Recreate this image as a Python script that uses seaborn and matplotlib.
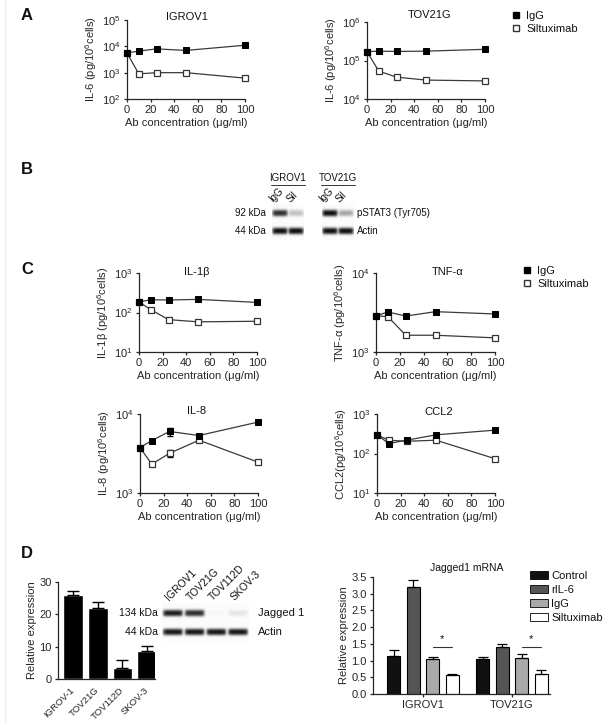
import matplotlib
matplotlib.use('Agg')
import matplotlib.pyplot as plt
from matplotlib.lines import Line2D
from matplotlib.patches import Patch
from matplotlib.ticker import NullLocator, LogFormatterSciNotation
import numpy as np
import pandas as pd
import seaborn as sns

W, H = 607, 722

# dose response (A, C)
conc = [0, 10, 25, 50, 100]
il6_igrov1_igg = [5600, 6600, 8000, 7000, 11000]
il6_igrov1_silt = [5600, 900, 1000, 1000, 620]
il6_tov21g_igg = [170000, 175000, 172000, 175000, 195000]
il6_tov21g_silt = [170000, 53000, 37000, 31000, 29500]
il1b_igg = [185, 211, 207, 215, 180]
il1b_silt = [185, 118, 66, 58, 60]
tnfa_igg = [2880, 3210, 2850, 3240, 3030]
tnfa_silt = [2880, 2800, 1630, 1630, 1510]
il8_igg = [3750, 4610, 6010, 5340, 7900]
il8_igg_err = [0, 0, 700, 0, 0]
il8_silt = [3750, 2320, 3180, 4660, 2460]
il8_silt_err = [0, 0, 330, 0, 0]
ccl2_igg = [297, 179, 217, 297, 390]
ccl2_silt = [297, 217, 204, 217, 74]

# western blots (band darkness 0-1)
blot_b_igrov1_pstat3 = [0.85, 0.35]
blot_b_igrov1_actin = [0.95, 0.95]
blot_b_tov21g_pstat3 = [0.95, 0.45]
blot_b_tov21g_actin = [0.95, 0.95]
blot_d_lanes = ['IGROV1', 'TOV21G', 'TOV112D', 'SKOV-3']
blot_d_jagged = [0.9, 0.85, 0.06, 0.18]
blot_d_actin = [0.92, 0.92, 0.92, 0.92]

# D: jagged1 baseline
jag_cells = ['IGROV-1', 'TOV21G', 'TOV112D', 'SKOV-3']
jag_rel = [26.0, 22.0, 3.5, 8.7]
jag_err = [1.2, 1.9, 2.3, 1.4]

# D: jagged1 mRNA
mrna_lines = ['IGROV1', 'TOV21G']
treatments = ['Control', 'rIL-6', 'IgG', 'Siltuximab']
mrna_igrov1 = [1.15, 3.2, 1.05, 0.56]
mrna_igrov1_err = [0.16, 0.22, 0.05, 0.04]
mrna_tov21g = [1.05, 1.40, 1.09, 0.60]
mrna_tov21g_err = [0.05, 0.11, 0.12, 0.11]

sns.set_style('ticks')
plt.rcParams['font.family'] = ['Liberation Sans', 'DejaVu Sans']
plt.rcParams['mathtext.default'] = 'regular'
plt.rcParams['axes.linewidth'] = 0.9
plt.rcParams['xtick.major.width'] = 0.9
plt.rcParams['ytick.major.width'] = 0.9
plt.rcParams['xtick.major.size'] = 2.5
plt.rcParams['ytick.major.size'] = 2.5
plt.rcParams['xtick.major.pad'] = 2
plt.rcParams['ytick.major.pad'] = 2
plt.rcParams['axes.labelpad'] = 2
plt.rcParams['xtick.labelsize'] = 8
plt.rcParams['ytick.labelsize'] = 8
plt.rcParams['axes.labelsize'] = 8
plt.rcParams['text.color'] = '#111111'

LINE = '#3a3a3a'
XLAB = 'Ab concentration (μg/ml)'


def box(x0, y0, x1, y1):
    return [x0 / W, 1 - y1 / H, (x1 - x0) / W, (y1 - y0) / H]


def dose_panel(ax, igg, silt, ylim, title, ylabel, tpos,
               igg_err=None, silt_err=None):
    ax.set_yscale('log')
    sns.lineplot(x=conc, y=silt, ax=ax, errorbar=None, color=LINE, lw=0.9,
                 marker='s', ms=5, mfc='white', mec='#333333', mew=0.9,
                 clip_on=False, zorder=3)
    sns.lineplot(x=conc, y=igg, ax=ax, errorbar=None, color=LINE, lw=0.9,
                 marker='s', ms=5, mfc='black', mec='black',
                 clip_on=False, zorder=4)
    if igg_err is not None:
        ax.errorbar(conc, igg, yerr=igg_err, fmt='none', ecolor='black',
                    elinewidth=0.8, capsize=2, zorder=2)
    if silt_err is not None:
        ax.errorbar(conc, silt, yerr=silt_err, fmt='none', ecolor='black',
                    elinewidth=0.8, capsize=2, zorder=2)
    ax.set_xlim(0, 100)
    ax.set_ylim(ylim)
    ax.set_xticks(range(0, 101, 20))
    lo, hi = np.log10(ylim)
    ax.set_yticks(10.0 ** np.arange(lo, hi + 1))
    ax.yaxis.set_major_formatter(LogFormatterSciNotation())
    ax.yaxis.set_minor_locator(NullLocator())
    ax.set_xlabel(XLAB)
    ax.set_ylabel(ylabel)
    ax.text(tpos[0], tpos[1], title, transform=ax.transAxes,
            ha='center', va='center', fontsize=8)
    sns.despine(ax=ax)


def draw_blot(ax, x0, x1, y0, y1, rows, gap=0.5):
    nx, ny = int((x1 - x0) * 4), int((y1 - y0) * 4)
    X, Y = np.meshgrid(np.linspace(x0, x1, nx), np.linspace(y0, y1, ny))
    img = np.full(X.shape, 0.03)
    nl = len(rows[0][1])
    lw = (x1 - x0) / nl
    for yc, vals in rows:
        for i, v in enumerate(vals):
            cx = x0 + lw * (i + 0.5)
            horiz = 1 / (1 + np.exp((np.abs(X - cx) - (lw / 2 - gap)) / 0.9))
            vert = np.exp(-np.abs((Y - yc) / 3.8) ** 2.5)
            img = np.maximum(img, v * horiz * vert)
    ax.imshow(img, cmap='Greys', vmin=0, vmax=1, extent=(x0, x1, y1, y0),
              interpolation='bilinear', aspect='auto', zorder=2)


fig = plt.figure(figsize=(W / 100, H / 100), dpi=100)

# ---- A
ax = fig.add_axes(box(127, 20, 245, 99))
dose_panel(ax, il6_igrov1_igg, il6_igrov1_silt, (1e2, 1e5), 'IGROV1',
           'IL-6 (pg/10$^6$cells)', (0.51, 1.04))
ax = fig.add_axes(box(367, 22, 485, 99))
dose_panel(ax, il6_tov21g_igg, il6_tov21g_silt, (1e4, 1e6), 'TOV21G',
           'IL-6 (pg/10$^6$cells)', (0.53, 1.09))

# ---- C
ax = fig.add_axes(box(139, 273, 257, 352))
dose_panel(ax, il1b_igg, il1b_silt, (1e1, 1e3), 'IL-1β',
           'IL-1β (pg/10$^6$cells)', (0.49, 1.01))
ax = fig.add_axes(box(376, 273, 495, 352))
dose_panel(ax, tnfa_igg, tnfa_silt, (1e3, 1e4), 'TNF-α',
           'TNF-α (pg/10$^6$cells)', (0.6, 1.01))
ax = fig.add_axes(box(140, 414, 258, 493))
dose_panel(ax, il8_igg, il8_silt, (1e3, 1e4), 'IL-8',
           'IL-8 (pg/10$^6$cells)', (0.48, 1.04),
           igg_err=il8_igg_err, silt_err=il8_silt_err)
ax = fig.add_axes(box(377, 414, 495, 493))
dose_panel(ax, ccl2_igg, ccl2_silt, (1e1, 1e3), 'CCL2',
           'CCL2(pg/10$^6$cells)', (0.52, 1.03))

leg_handles = [
    Line2D([], [], marker='s', ls='none', ms=5, mfc='black', mec='black'),
    Line2D([], [], marker='s', ls='none', ms=5, mfc='white', mec='#333333'),
]
for lx, ly in [(512, 11), (523, 266)]:
    fig.legend(leg_handles, ['IgG', 'Siltuximab'], loc='upper left',
               bbox_to_anchor=(lx / W, 1 - ly / H), frameon=False, fontsize=8,
               handlelength=0.8, handletextpad=0.5, labelspacing=0.3,
               borderaxespad=0, borderpad=0)

# ---- D left: relative expression
ax = fig.add_axes(box(58, 582, 155, 679))
sns.barplot(x=jag_cells, y=jag_rel, color='black', saturation=1, width=0.8,
            errorbar=None, ax=ax)
ax.errorbar(range(len(jag_cells)), jag_rel,
            yerr=[np.zeros(len(jag_err)), jag_err], fmt='none',
            ecolor='black', elinewidth=1, capsize=4, capthick=1)
ax.set_xlim(-0.61, 3.32)
ax.set_ylim(0, 30)
ax.set_yticks([0, 10, 20, 30])
ax.set_ylabel('Relative expression')
ax.tick_params(axis='x', length=0, pad=7, labelsize=6.8)
plt.setp(ax.get_xticklabels(), rotation=45, ha='right', va='center',
         rotation_mode='anchor')
sns.despine(ax=ax)

# ---- D right: Jagged1 mRNA
ax = fig.add_axes(box(373, 577, 550, 694))
mrna = pd.DataFrame({
    'line': np.repeat(mrna_lines, len(treatments)),
    'treatment': treatments * len(mrna_lines),
    'value': mrna_igrov1 + mrna_tov21g,
})
mrna_err = [mrna_igrov1_err, mrna_tov21g_err]
palette = {'Control': '#111111', 'rIL-6': '#555555',
           'IgG': '#a9a9a9', 'Siltuximab': 'white'}
sns.barplot(data=mrna, x='line', y='value', hue='treatment',
            hue_order=treatments, palette=palette, saturation=1, width=0.87,
            gap=0.33, edgecolor='black', linewidth=0.8, errorbar=None,
            legend=False, ax=ax)
bar_groups = list(ax.containers)
centers = []
for h, cont in enumerate(bar_groups):
    xs = [b.get_x() + b.get_width() / 2 for b in cont]
    centers.append(xs)
    ys = [b.get_height() for b in cont]
    es = [mrna_err[g][h] for g in range(len(xs))]
    ax.errorbar(xs, ys, yerr=[np.zeros(len(es)), es], fmt='none',
                ecolor='black', elinewidth=0.9, capsize=3.5, capthick=0.9,
                zorder=1)
for g in range(len(mrna_lines)):
    x1, x2 = centers[2][g], centers[3][g]
    ax.plot([x1, x2], [1.41, 1.41], color='#333333', lw=0.8)
    ax.text((x1 + x2) / 2, 1.5, '*', ha='center', va='bottom', fontsize=8)
ax.set_xlim(-0.562, 1.427)
ax.set_ylim(0, 3.5)
ax.set_yticks(np.arange(0, 3.51, 0.5))
ax.yaxis.set_major_formatter(plt.FormatStrFormatter('%.1f'))
ax.set_xlabel('')
ax.set_ylabel('Relative expression')
ax.legend([Patch(facecolor=palette[t], edgecolor='black', lw=0.6)
           for t in treatments], treatments, loc='upper left',
          bbox_to_anchor=(530 / W, 1 - 571 / H),
          bbox_transform=fig.transFigure, frameon=False, fontsize=8,
          handlelength=1.6, handleheight=0.75, handletextpad=0.3,
          labelspacing=0.35, borderaxespad=0, borderpad=0)
sns.despine(ax=ax)

# ---- overlay in pixel coordinates: letters, blots, blot labels
ov = fig.add_axes([0, 0, 1, 1], zorder=10)
ov.axvline(5, color='#ececec', lw=1)
for letter, ly in [('A', 15), ('B', 169), ('C', 270), ('D', 553)]:
    ov.text(27, ly, letter, fontsize=12, fontweight='bold',
            ha='center', va='center')

# B blots
draw_blot(ov, 272, 304, 204, 240,
          [(213, blot_b_igrov1_pstat3), (231, blot_b_igrov1_actin)], gap=0.3)
draw_blot(ov, 322, 354, 204, 240,
          [(213, blot_b_tov21g_pstat3), (231, blot_b_tov21g_actin)], gap=0.3)
for name, cx, x0, x1 in [('IGROV1', 288, 271, 305), ('TOV21G', 338, 321, 355)]:
    ov.text(cx, 178, name, fontsize=7, ha='center', va='center')
    ov.plot([x0, x1], [185, 185], color='#333333', lw=0.7)
for lab, ax_x in [('IgG', 274), ('Sil', 292), ('IgG', 324), ('Sil', 341)]:
    ov.text(ax_x, 204, lab, fontsize=7, rotation=45, ha='left',
            va='bottom', rotation_mode='anchor')
ov.text(266, 213, '92 kDa', fontsize=7, ha='right', va='center')
ov.text(266, 231, '44 kDa', fontsize=7, ha='right', va='center')
ov.text(357, 213, 'pSTAT3 (Tyr705)', fontsize=7, ha='left', va='center')
ov.text(357, 231, 'Actin', fontsize=7, ha='left', va='center')

# D blot
draw_blot(ov, 162, 249, 603, 641,
          [(613, blot_d_jagged), (632, blot_d_actin)], gap=1.0)
lane_w = (249 - 162) / len(blot_d_lanes)
for i, lab in enumerate(blot_d_lanes):
    ov.text(162 + lane_w * (i + 0.5) - 2, 602, lab, fontsize=7.5,
            rotation=45, ha='left', va='bottom', rotation_mode='anchor')
ov.text(158, 613, '134 kDa', fontsize=7.5, ha='right', va='center')
ov.text(158, 632, '44 kDa', fontsize=7.5, ha='right', va='center')
ov.text(258, 613, 'Jagged 1', fontsize=8, ha='left', va='center')
ov.text(258, 632, 'Actin', fontsize=8, ha='left', va='center')
ov.text(467, 568, 'Jagged1 mRNA', fontsize=7.5, ha='center', va='center')

ov.set_xlim(0, W)
ov.set_ylim(H, 0)
ov.axis('off')

fig.savefig('out.png', dpi=100)
